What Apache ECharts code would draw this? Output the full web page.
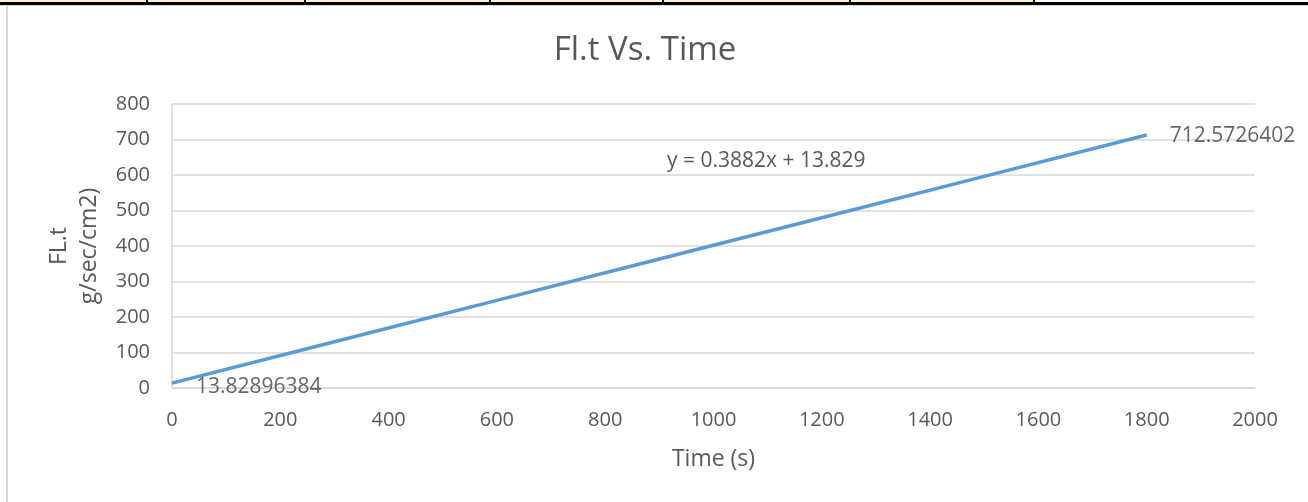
<!DOCTYPE html>
<html><head><meta charset="utf-8">
<script src="https://cdn.jsdelivr.net/npm/echarts@6/dist/echarts.min.js"></script>
<style>html,body{margin:0;padding:0;background:#fff}#c{width:1308px;height:502px}</style>
</head><body><div id="c"></div>
<script>
const timeValues = [0, 300, 600, 900, 1200, 1500, 1800];
const flValues = [13.82896384, 130.3, 246.8, 363.2, 479.7, 596.1, 712.5726402];
const xTicks = [0, 200, 400, 600, 800, 1000, 1200, 1400, 1600, 1800, 2000];
const yTicks = [0, 100, 200, 300, 400, 500, 600, 700, 800];
const titleText = 'Fl.t Vs. Time';
const trendText = 'y = 0.3882x + 13.829';
const tableDividers = [147, 305, 490, 663, 850, 1034];

const FONT = '"Open Sans", sans-serif';
const GREY = '#595959';
const chart = echarts.init(document.getElementById('c'), null, {renderer: 'canvas'});
const lineData = timeValues.map((t, i) => [t, flValues[i]]);
const last = timeValues.length - 1;
const labelData = [0, last].map(i => ({
  value: [timeValues[i], flValues[i]],
  label: {show: true, position: i === 0 ? [25, 5] : [24, 2], align: 'left', verticalAlign: 'middle',
    formatter: String(flValues[i]), fontFamily: FONT, fontSize: 21, color: '#404040'}
}));
const graphics = [
  {type: 'rect', shape: {x: 0, y: 0, width: 1034, height: 2}, style: {fill: '#fff2cc'}, silent: true},
  {type: 'rect', shape: {x: 0, y: 2, width: 1308, height: 3}, style: {fill: '#000'}, silent: true},
  {type: 'rect', shape: {x: 0, y: 5, width: 1308, height: 1}, style: {fill: '#d9d9d9'}, silent: true},
  {type: 'rect', shape: {x: 6, y: 5, width: 2, height: 497}, style: {fill: '#d9d9d9'}, silent: true}
];
tableDividers.forEach(x => graphics.push({type: 'rect', shape: {x: x - 1, y: 0, width: 2, height: 3}, style: {fill: '#000'}, silent: true}));
graphics.push({type: 'text', left: 667, top: 151, style: {text: trendText, font: '21px ' + FONT, fill: GREY}, silent: true});

chart.setOption({
  animation: false,
  title: {text: titleText, left: 640, top: 29, textAlign: 'center',
    textStyle: {fontFamily: FONT, fontSize: 33, fontWeight: 'normal', color: GREY}},
  grid: {left: 172, right: 53, top: 104, bottom: 114, containLabel: false},
  xAxis: {type: 'value', min: 0, max: 2000, interval: 200,
    name: 'Time (s)', nameLocation: 'middle', nameGap: 60,
    nameTextStyle: {fontFamily: FONT, fontSize: 23, color: GREY},
    axisLine: {show: true, lineStyle: {color: '#d9d9d9', width: 1.5}},
    axisTick: {show: false}, splitLine: {show: false},
    axisLabel: {margin: 22, fontFamily: FONT, fontSize: 20, color: GREY,
      formatter: v => xTicks.includes(v) ? String(v) : ''}},
  yAxis: {type: 'value', min: 0, max: 800, interval: 100,
    name: 'FL.t\ng/sec/cm2)', nameLocation: 'middle', nameGap: 56, nameRotate: 90,
    nameTextStyle: {fontFamily: FONT, fontSize: 23, color: GREY, lineHeight: 30},
    axisLine: {show: true, lineStyle: {color: '#d9d9d9', width: 1.5}},
    axisTick: {show: false},
    splitLine: {show: true, lineStyle: {color: '#d9d9d9', width: 1.5}},
    axisLabel: {margin: 22, fontFamily: FONT, fontSize: 20, color: GREY,
      formatter: v => yTicks.includes(v) ? String(v) : ''}},
  series: [
    {type: 'line', data: lineData, symbol: 'none', showSymbol: false,
      lineStyle: {color: '#5b9bd5', width: 3.5}, itemStyle: {color: '#5b9bd5'}},
    {type: 'scatter', data: labelData, symbolSize: 2, itemStyle: {color: 'rgba(0,0,0,0)'},
      labelLayout: {hideOverlap: false}, z: 5}
  ],
  graphic: graphics
});
</script></body></html>
